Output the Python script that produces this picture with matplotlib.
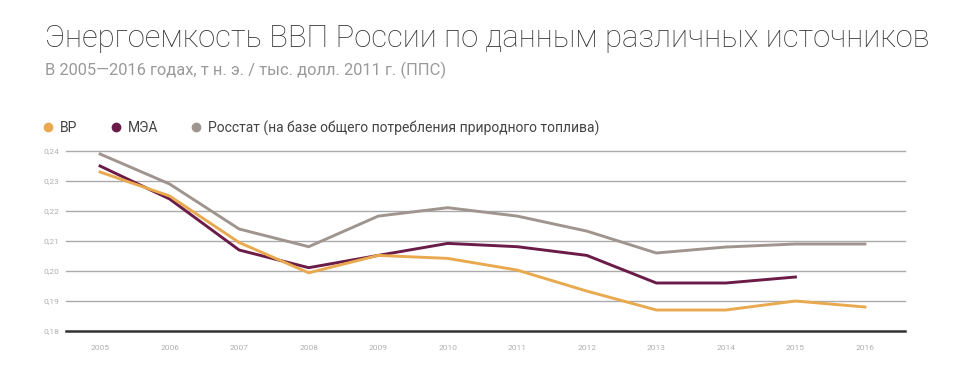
import matplotlib.pyplot as plt
from matplotlib.lines import Line2D

plt.rcParams['font.family'] = ['Roboto', 'DejaVu Sans']

# Data
years = [2005, 2006, 2007, 2008, 2009, 2010, 2011, 2012, 2013, 2014, 2015, 2016]
bp = [0.233, 0.225, 0.2095, 0.1994, 0.2052, 0.2042, 0.2003, 0.1933, 0.187, 0.187, 0.190, 0.188]
iea = [0.235, 0.224, 0.207, 0.2011, 0.2052, 0.2092, 0.2081, 0.2052, 0.196, 0.196, 0.198]
rosstat = [0.239, 0.229, 0.214, 0.2081, 0.2183, 0.2211, 0.2183, 0.2133, 0.206, 0.208, 0.209, 0.209]
yticks = [0.18, 0.19, 0.20, 0.21, 0.22, 0.23, 0.24]
labels = ['BP', 'МЭА', 'Росстат (на базе общего потребления природного топлива)']
colors = ['#E9A94E', '#6B1B47', '#A0958E']

fig = plt.figure(figsize=(9.78, 3.82), dpi=100)
ax = fig.add_axes([0.0675, 0.1335, 0.8578, 0.4712])

for ys, c in zip([rosstat, iea, bp], [colors[2], colors[1], colors[0]]):
    ax.plot(years[:len(ys)], ys, color=c, lw=2.1, solid_joinstyle='miter', zorder=3)

ax.set_xlim(2004.51, 2016.575)
ax.set_ylim(0.18, 0.24)
ax.set_yticks(yticks)
ax.set_yticklabels([f'{v:.2f}'.replace('.', ',') for v in yticks])
ax.set_xticks(years)
ax.set_xticklabels([str(y) for y in years])
for v in yticks[1:]:
    ax.axhline(v, color='#ABABAB', lw=1.0, zorder=1, clip_on=False)
ax.axhline(0.18, color='#333333', lw=1.8, zorder=2, clip_on=False)
for s in ax.spines.values():
    s.set_visible(False)
ax.tick_params(length=0, labelsize=6, labelcolor='#B0B0B0')
ax.tick_params(axis='x', pad=10)
ax.tick_params(axis='y', pad=5)

fig.text(0.046, 0.90, 'Энергоемкость ВВП России по данным различных источников',
         fontsize=22.3, color='#333333', va='center', fontweight='light')
fig.text(0.046, 0.817, 'В 2005—2016 годах, т н. э. / тыс. долл. 2011 г. (ППС)',
         fontsize=11.9, color='#9A9A9A', va='center')

handles = [Line2D([], [], marker='o', ls='', color=c, markersize=6) for c in colors]
fig.legend(handles, labels, loc='center left', bbox_to_anchor=(0.0435, 0.665),
           ncol=3, frameon=False, fontsize=10, handlelength=0.8,
           handletextpad=0.47, columnspacing=2.35, borderpad=0,
           borderaxespad=0, labelcolor='#444444')

fig.savefig('out.png', dpi=100)
